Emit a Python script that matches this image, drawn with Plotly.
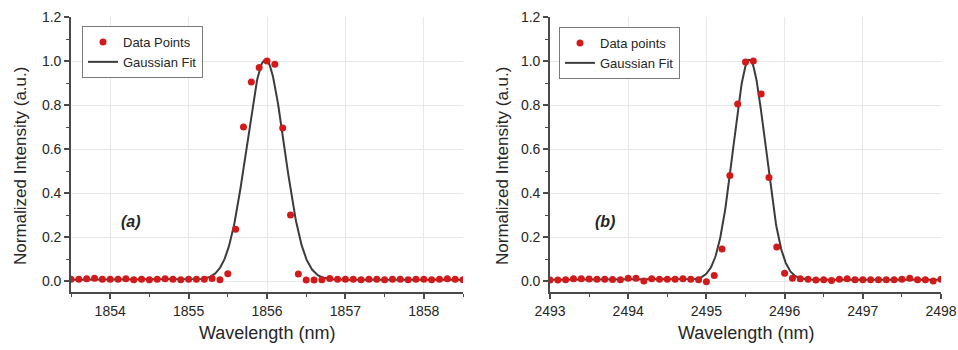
import numpy as np
import plotly.graph_objects as go

# ---------------- data ----------------
wl_a = [1853.5, 1853.6, 1853.7, 1853.8, 1853.9, 1854.0, 1854.1, 1854.2, 1854.3, 1854.4,
        1854.5, 1854.6, 1854.7, 1854.8, 1854.9, 1855.0, 1855.1, 1855.2, 1855.3, 1855.4,
        1855.5, 1855.6, 1855.7, 1855.8, 1855.9, 1856.0, 1856.1, 1856.2, 1856.3, 1856.4,
        1856.5, 1856.6, 1856.7, 1856.8, 1856.9, 1857.0, 1857.1, 1857.2, 1857.3, 1857.4,
        1857.5, 1857.6, 1857.7, 1857.8, 1857.9, 1858.0, 1858.1, 1858.2, 1858.3, 1858.4,
        1858.5]
int_a = [0.008, 0.008, 0.010, 0.012, 0.008, 0.008, 0.008, 0.010, 0.006, 0.008,
         0.006, 0.008, 0.010, 0.008, 0.006, 0.008, 0.008, 0.008, 0.011, 0.006,
         0.033, 0.235, 0.700, 0.905, 0.970, 1.000, 0.985, 0.695, 0.300, 0.032,
         0.005, 0.004, 0.006, 0.011, 0.008, 0.008, 0.008, 0.006, 0.008, 0.008,
         0.006, 0.008, 0.008, 0.006, 0.008, 0.008, 0.006, 0.008, 0.010, 0.008,
         0.006]

wl_b = [2493.0, 2493.1, 2493.2, 2493.3, 2493.4, 2493.5, 2493.6, 2493.7, 2493.8, 2493.9,
        2494.0, 2494.1, 2494.2, 2494.3, 2494.4, 2494.5, 2494.6, 2494.7, 2494.8, 2494.9,
        2495.0, 2495.1, 2495.2, 2495.3, 2495.4, 2495.5, 2495.6, 2495.7, 2495.8, 2495.9,
        2496.0, 2496.1, 2496.2, 2496.3, 2496.4, 2496.5, 2496.6, 2496.7, 2496.8, 2496.9,
        2497.0, 2497.1, 2497.2, 2497.3, 2497.4, 2497.5, 2497.6, 2497.7, 2497.8, 2497.9,
        2498.0]
int_b = [0.005, 0.005, 0.006, 0.010, 0.010, 0.009, 0.008, 0.008, 0.007, 0.006,
         0.012, 0.012, 0.000, 0.010, 0.008, 0.008, 0.008, 0.010, 0.008, 0.006,
         -0.003, 0.025, 0.145, 0.480, 0.805, 0.995, 1.000, 0.850, 0.470, 0.155,
         0.035, 0.012, 0.010, 0.008, 0.004, 0.006, 0.002, 0.008, 0.010, 0.006,
         0.006, 0.006, 0.006, 0.006, 0.006, 0.008, 0.012, 0.006, 0.006, 0.000,
         0.008]

# Gaussian fit parameters
fit_a = dict(center=1855.98, sigma=0.240, amp=1.0, base=0.006)
fit_b = dict(center=2495.55, sigma=0.205, amp=1.0, base=0.006)

xticks_a = [1854, 1855, 1856, 1857, 1858]
xticks_b = [2493, 2494, 2495, 2496, 2497, 2498]
yticks = [0.0, 0.2, 0.4, 0.6, 0.8, 1.0, 1.2]
ytick_text = ["0.0", "0.2", "0.4", "0.6", "0.8", "1.0", "1.2"]

legend_a = ["Data Points", "Gaussian Fit"]
legend_b = ["Data points", "Gaussian Fit"]
panel_labels = ["(a)", "(b)"]
x_title = "Wavelength (nm)"
y_title = "Normalized Intensity (a.u.)"


def gauss(x, p):
    return p["base"] + p["amp"] * np.exp(-((x - p["center"]) ** 2) / (2 * p["sigma"] ** 2))


# ---------------- style ----------------
FONT = "Arial, 'Liberation Sans', sans-serif"
RED = "#d21a1a"
LINE = "#3c3c3c"
AX = "#4a4a4a"
GRID = "#e8e8e8"
TXT = "#262626"

xr_a = [1853.5, 1858.5]
xr_b = [2493.0, 2498.0]
yr = [-0.05, 1.2]

dom_a = [71 / 958, 463 / 958]
dom_b = [550 / 958, 941 / 958]
dom_y = [58 / 350, 333 / 350]

fig = go.Figure()

xf_a = np.linspace(xr_a[0], xr_a[1], 600)
xf_b = np.linspace(xr_b[0], xr_b[1], 600)

fig.add_trace(go.Scatter(x=xf_a, y=gauss(xf_a, fit_a), mode="lines", name=legend_a[1],
                         line=dict(color=LINE, width=2), xaxis="x", yaxis="y",
                         legend="legend", legendrank=2))
fig.add_trace(go.Scatter(x=wl_a, y=int_a, mode="markers", name=legend_a[0],
                         marker=dict(color=RED, size=7), xaxis="x", yaxis="y",
                         legend="legend", legendrank=1))
fig.add_trace(go.Scatter(x=xf_b, y=gauss(xf_b, fit_b), mode="lines", name=legend_b[1],
                         line=dict(color=LINE, width=2), xaxis="x2", yaxis="y2",
                         legend="legend2", legendrank=2))
fig.add_trace(go.Scatter(x=wl_b, y=int_b, mode="markers", name=legend_b[0],
                         marker=dict(color=RED, size=7), xaxis="x2", yaxis="y2",
                         legend="legend2", legendrank=1))

tickfont = dict(family=FONT, size=14, color=TXT)


def xax(dom, rng, tv, anchor):
    return dict(domain=dom, range=rng, anchor=anchor, tickvals=tv, automargin=False,
                ticktext=[str(v) for v in tv], tickfont=tickfont,
                ticks="outside", ticklen=5, tickwidth=1.5, tickcolor=AX,
                minor=dict(dtick=0.5, tick0=tv[0], ticks="outside", ticklen=3,
                           tickwidth=1.2, tickcolor=AX, showgrid=False),
                showline=True, linecolor=AX, linewidth=1.6,
                showgrid=True, gridcolor=GRID, gridwidth=1, zeroline=False)


def yax(anchor):
    return dict(domain=dom_y, range=yr, anchor=anchor, tickvals=yticks, automargin=False,
                ticktext=ytick_text, tickfont=tickfont,
                ticks="outside", ticklen=5, tickwidth=1.5, tickcolor=AX,
                minor=dict(dtick=0.1, tick0=0, ticks="outside", ticklen=3,
                           tickwidth=1.2, tickcolor=AX, showgrid=False),
                showline=True, linecolor=AX, linewidth=1.6,
                showgrid=True, gridcolor=GRID, gridwidth=1, zeroline=False)


def xtop(over, anchor, rng, tv):
    return dict(overlaying=over, anchor=anchor, side="top", range=rng, automargin=False,
                tickvals=tv, showticklabels=False,
                ticks="inside", ticklen=5, tickwidth=1.5, tickcolor=AX,
                minor=dict(dtick=0.5, tick0=tv[0], ticks="inside", ticklen=3,
                           tickwidth=1.2, tickcolor=AX, showgrid=False),
                showline=True, linecolor=AX, linewidth=1.6,
                showgrid=False, zeroline=False)


def yright(over, anchor):
    return dict(overlaying=over, anchor=anchor, side="right", range=yr, automargin=False,
                tickvals=yticks, showticklabels=False,
                ticks="inside", ticklen=5, tickwidth=1.5, tickcolor=AX,
                minor=dict(dtick=0.1, tick0=0, ticks="inside", ticklen=3,
                           tickwidth=1.2, tickcolor=AX, showgrid=False),
                showline=True, linecolor=AX, linewidth=1.6,
                showgrid=False, zeroline=False)


legend_style = dict(font=dict(family=FONT, size=13, color=TXT), bgcolor="white",
                    bordercolor="#7a7a7a", borderwidth=1, xanchor="left", yanchor="top",
                    tracegroupgap=0, itemwidth=30)

annots = []
for dom in [dom_a, dom_b]:
    cx = (dom[0] + dom[1]) / 2
    annots.append(dict(text=x_title, xref="paper", yref="paper", x=cx, y=1 - 333 / 350,
                       xanchor="center", yanchor="middle", showarrow=False,
                       font=dict(family=FONT, size=18, color=TXT)))
for xpos in [20 / 958, 502 / 958]:
    annots.append(dict(text=y_title, xref="paper", yref="paper", x=xpos, y=1 - 166 / 350,
                       xanchor="center", yanchor="middle", textangle=-90, showarrow=False,
                       font=dict(family=FONT, size=17, color=TXT)))
annots.append(dict(text="<b><i>" + panel_labels[0] + "</i></b>", xref="x", yref="y",
                   x=1854.27, y=0.27, showarrow=False,
                   font=dict(family=FONT, size=16, color=TXT)))
annots.append(dict(text="<b><i>" + panel_labels[1] + "</i></b>", xref="x2", yref="y2",
                   x=2493.70, y=0.27, showarrow=False,
                   font=dict(family=FONT, size=16, color=TXT)))

fig.update_layout(
    width=958, height=350,
    margin=dict(l=0, r=0, t=0, b=0, autoexpand=False),
    paper_bgcolor="white", plot_bgcolor="white",
    showlegend=True,
    xaxis=xax(dom_a, xr_a, xticks_a, "y"),
    yaxis=yax("x"),
    xaxis2=xax(dom_b, xr_b, xticks_b, "y2"),
    yaxis2=yax("x2"),
    xaxis3=xtop("x", "y", xr_a, xticks_a),
    yaxis3=yright("y", "x"),
    xaxis4=xtop("x2", "y2", xr_b, xticks_b),
    yaxis4=yright("y2", "x2"),
    legend=dict(x=82 / 958, y=1 - 26 / 350, **legend_style),
    legend2=dict(x=559 / 958, y=1 - 27 / 350, **legend_style),
    annotations=annots,
)

fig.write_html("out.html", config={"displayModeBar": False},
               post_script="document.body.style.margin='0';document.body.style.padding='0';")
